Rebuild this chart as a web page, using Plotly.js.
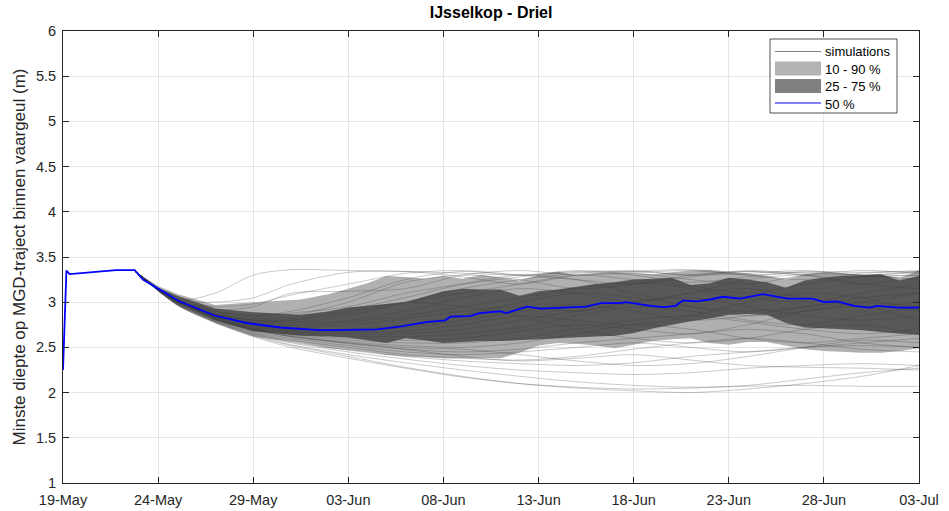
<!DOCTYPE html>
<html>
<head>
<meta charset="utf-8">
<script src="https://cdn.plot.ly/plotly-3.0.1.min.js"></script>
<style>html,body{margin:0;padding:0;background:#fff;}#chart{width:949px;height:511px;}</style>
</head>
<body>
<div id="chart"></div>
<script>
// ---- data (days since 19-May) ----
const startDate = Date.UTC(2021, 4, 19);
const xTickLabels = ['19-May','24-May','29-May','03-Jun','08-Jun','13-Jun','18-Jun','23-Jun','28-Jun','03-Jul'];
const legendLabels = ['simulations', '10 - 90 %', '25 - 75 %', '50 %'];

const medianDays = [0, 0.18, 0.35, 1.5, 2.8, 3.77, 4.2, 5, 6.1, 8, 9.65, 11.4, 13.5, 14.2, 16.5, 17.7, 19.1, 20.1, 20.35, 21.4, 21.9, 23, 23.3, 24.4, 25.1, 27.5, 28.3, 29.3, 29.6, 30.9, 31.6, 32.2, 32.6, 33.3, 34.0, 34.7, 35.6, 36.8, 38.1, 39.4, 40.0, 40.7, 41.6, 42.4, 42.8, 43.9, 45];
const median50 = [2.25, 3.35, 3.31, 3.33, 3.355, 3.355, 3.25, 3.15, 3.01, 2.85, 2.77, 2.72, 2.69, 2.69, 2.70, 2.73, 2.78, 2.80, 2.84, 2.845, 2.88, 2.90, 2.88, 2.95, 2.93, 2.95, 2.99, 2.99, 3.00, 2.96, 2.945, 2.96, 3.02, 3.01, 3.03, 3.06, 3.04, 3.09, 3.04, 3.04, 3.00, 3.01, 2.96, 2.94, 2.96, 2.94, 2.94];

const bandDays = [3.8, 5, 6, 8, 10, 12.5, 14, 15, 16, 17, 18, 19, 20, 21, 22, 23, 24, 25, 26, 27, 28, 29, 30, 31, 32, 33, 34, 35, 36, 37, 38, 39, 40, 41, 42, 43, 44, 45];
const p90 = [3.34, 3.18, 3.09, 2.97, 3.0, 3.03, 3.09, 3.15, 3.21, 3.29, 3.28, 3.26, 3.29, 3.26, 3.3, 3.27, 3.24, 3.3, 3.34, 3.3, 3.32, 3.33, 3.32, 3.31, 3.33, 3.35, 3.36, 3.34, 3.32, 3.29, 3.25, 3.31, 3.33, 3.32, 3.3, 3.3, 3.27, 3.35];
const p75 = [3.34, 3.16, 3.07, 2.93, 2.89, 2.86, 2.9, 2.94, 2.96, 2.98, 3.0, 3.06, 3.12, 3.15, 3.14, 3.14, 3.07, 3.12, 3.14, 3.17, 3.2, 3.22, 3.25, 3.26, 3.27, 3.19, 3.21, 3.27, 3.25, 3.22, 3.16, 3.24, 3.27, 3.29, 3.3, 3.31, 3.24, 3.29];
const p25 = [3.34, 3.13, 3.0, 2.8, 2.68, 2.63, 2.62, 2.61, 2.58, 2.55, 2.6, 2.58, 2.55, 2.56, 2.57, 2.57, 2.58, 2.59, 2.6, 2.61, 2.62, 2.63, 2.66, 2.71, 2.75, 2.79, 2.82, 2.86, 2.87, 2.86, 2.77, 2.72, 2.71, 2.70, 2.69, 2.67, 2.65, 2.64];
const p10 = [3.34, 3.12, 2.98, 2.77, 2.62, 2.55, 2.49, 2.47, 2.45, 2.42, 2.40, 2.39, 2.38, 2.38, 2.38, 2.38, 2.44, 2.52, 2.55, 2.54, 2.52, 2.49, 2.53, 2.57, 2.59, 2.6, 2.55, 2.53, 2.56, 2.56, 2.52, 2.48, 2.46, 2.45, 2.44, 2.44, 2.46, 2.49];

const simDays = [3.8, 6, 8, 10, 12, 15, 18, 21, 24, 27, 30, 33, 36, 39, 42, 45];
const simulations = [
  [3.34, 3.03, 3.1, 3.3, 3.36, 3.35, 3.34, 3.32, 3.3, 3.33, 3.35, 3.3, 3.32, 3.35, 3.3, 3.33],
  [3.34, 3.03, 3.0, 3.05, 3.2, 3.33, 3.34, 3.28, 3.2, 3.3, 3.34, 3.36, 3.3, 3.25, 3.32, 3.34],
  [3.34, 3.02, 2.95, 2.98, 3.08, 3.2, 3.32, 3.35, 3.3, 3.25, 3.2, 3.28, 3.34, 3.3, 3.28, 3.3],
  [3.34, 3.02, 2.92, 2.95, 3.1, 3.12, 3.15, 3.3, 3.35, 3.3, 3.32, 3.25, 3.2, 3.3, 3.35, 3.32],
  [3.34, 3.02, 2.9, 2.85, 2.88, 2.95, 3.1, 3.2, 3.28, 3.34, 3.3, 3.22, 3.28, 3.33, 3.3, 3.25],
  [3.34, 3.02, 2.88, 2.82, 2.85, 3.0, 3.22, 3.3, 3.25, 3.15, 3.2, 3.3, 3.34, 3.3, 3.2, 3.28],
  [3.34, 3.01, 2.87, 2.8, 2.8, 2.88, 3.0, 3.1, 3.2, 3.3, 3.25, 3.18, 3.1, 3.2, 3.28, 3.3],
  [3.34, 3.01, 2.86, 2.78, 2.76, 2.8, 2.9, 3.05, 3.15, 3.1, 3.0, 3.1, 3.25, 3.3, 3.2, 3.15],
  [3.34, 3.01, 2.86, 2.77, 2.74, 2.78, 2.85, 2.95, 3.05, 3.15, 3.22, 3.15, 3.05, 3.0, 3.1, 3.2],
  [3.34, 3.01, 2.85, 2.76, 2.72, 2.75, 2.82, 2.9, 2.95, 2.9, 3.0, 3.1, 3.15, 3.05, 2.95, 3.0],
  [3.34, 3.0, 2.85, 2.75, 2.7, 2.7, 2.75, 2.85, 3.0, 3.1, 3.05, 2.95, 2.9, 2.95, 3.05, 3.1],
  [3.34, 3.0, 2.84, 2.74, 2.69, 2.68, 2.72, 2.8, 2.9, 2.98, 2.9, 2.8, 2.85, 2.95, 3.0, 2.95],
  [3.34, 3.0, 2.84, 2.73, 2.68, 2.66, 2.68, 2.75, 2.85, 2.8, 2.75, 2.85, 3.0, 3.1, 3.05, 2.9],
  [3.34, 3.0, 2.83, 2.72, 2.67, 2.64, 2.65, 2.7, 2.8, 2.9, 3.0, 3.05, 2.95, 2.85, 2.8, 2.85],
  [3.34, 2.99, 2.83, 2.72, 2.66, 2.62, 2.62, 2.65, 2.72, 2.85, 2.95, 2.9, 2.8, 2.75, 2.85, 2.95],
  [3.34, 2.99, 2.82, 2.71, 2.65, 2.6, 2.58, 2.6, 2.68, 2.75, 2.7, 2.65, 2.75, 2.9, 2.95, 2.8],
  [3.34, 2.99, 2.82, 2.7, 2.64, 2.58, 2.55, 2.55, 2.6, 2.7, 2.8, 2.85, 2.78, 2.7, 2.65, 2.7],
  [3.34, 2.99, 2.81, 2.7, 2.63, 2.56, 2.52, 2.5, 2.55, 2.65, 2.75, 2.7, 2.6, 2.55, 2.6, 2.65],
  [3.34, 2.98, 2.81, 2.69, 2.62, 2.54, 2.48, 2.45, 2.48, 2.55, 2.6, 2.65, 2.7, 2.65, 2.55, 2.5],
  [3.34, 2.98, 2.8, 2.68, 2.6, 2.52, 2.45, 2.42, 2.45, 2.5, 2.55, 2.5, 2.45, 2.5, 2.55, 2.6],
  [3.34, 2.98, 2.8, 2.67, 2.58, 2.5, 2.42, 2.38, 2.36, 2.4, 2.48, 2.55, 2.6, 2.55, 2.48, 2.45],
  [3.34, 2.98, 2.79, 2.66, 2.56, 2.47, 2.4, 2.35, 2.32, 2.3, 2.33, 2.4, 2.45, 2.5, 2.52, 2.5],
  [3.34, 2.97, 2.79, 2.65, 2.55, 2.45, 2.37, 2.3, 2.25, 2.22, 2.2, 2.22, 2.27, 2.3, 2.32, 2.3],
  [3.34, 2.97, 2.78, 2.64, 2.53, 2.42, 2.33, 2.25, 2.18, 2.12, 2.08, 2.06, 2.08, 2.15, 2.22, 2.27],
  [3.34, 2.97, 2.78, 2.63, 2.52, 2.4, 2.28, 2.18, 2.1, 2.05, 2.02, 2.0, 2.04, 2.1, 2.18, 2.3],
  [3.34, 2.97, 2.77, 2.62, 2.5, 2.38, 2.27, 2.17, 2.1, 2.06, 2.04, 2.05, 2.07, 2.08, 2.07, 2.07],
  [3.34, 2.98, 2.8, 2.7, 2.62, 2.55, 2.5, 2.48, 2.42, 2.35, 2.3, 2.32, 2.4, 2.5, 2.58, 2.55],
  [3.34, 3.0, 2.85, 2.78, 2.8, 2.9, 3.0, 2.95, 2.85, 2.7, 2.6, 2.55, 2.6, 2.7, 2.75, 2.65],
  [3.34, 3.01, 2.87, 2.8, 2.82, 2.92, 3.05, 3.2, 3.3, 3.25, 3.1, 2.95, 2.85, 2.9, 3.0, 3.1],
  [3.34, 3.02, 2.9, 2.85, 2.9, 3.05, 3.25, 3.34, 3.3, 3.35, 3.33, 3.35, 3.3, 3.34, 3.33, 3.35],
  [3.34, 2.99, 2.82, 2.7, 2.62, 2.55, 2.48, 2.4, 2.35, 2.38, 2.42, 2.36, 2.3, 2.28, 2.27, 2.25],
  [3.34, 3.0, 2.86, 2.8, 2.78, 2.85, 3.0, 3.15, 3.25, 3.32, 3.34, 3.3, 3.35, 3.32, 3.3, 3.34]
];

// ---- helpers ----
const toDate = d => startDate + d * 86400000;
const tickVals = xTickLabels.map((_, i) => toDate(i * 5));

const traces = [];
traces.push({
  name: legendLabels[1],
  x: bandDays.map(toDate).concat(bandDays.slice().reverse().map(toDate)),
  y: p90.concat(p10.slice().reverse()),
  fill: 'toself', fillcolor: 'rgb(176,176,176)', line: {width: 0}, mode: 'lines',
  showlegend: false, hoverinfo: 'skip'
});
traces.push({
  name: legendLabels[2],
  x: bandDays.map(toDate).concat(bandDays.slice().reverse().map(toDate)),
  y: p75.concat(p25.slice().reverse()),
  fill: 'toself', fillcolor: 'rgb(88,88,88)', line: {width: 0}, mode: 'lines',
  showlegend: false, hoverinfo: 'skip'
});
simulations.forEach(s => traces.push({
  name: legendLabels[0],
  x: simDays.map(toDate), y: s, mode: 'lines',
  line: {color: 'rgba(60,60,60,0.35)', width: 0.8, shape: 'spline', smoothing: 0.8},
  showlegend: false, hoverinfo: 'skip'
}));
traces.push({
  name: legendLabels[3],
  x: medianDays.map(toDate), y: median50, mode: 'lines',
  line: {color: '#0000ff', width: 1.8}, showlegend: false
});

// ---- legend drawn in paper coordinates (plot area 63..919 x 31..483 px) ----
const px = v => (v - 63) / 856;
const py = v => (483 - v) / 452;
const shapes = [
  {type: 'rect', xref: 'paper', yref: 'paper', x0: px(770), x1: px(897), y0: py(113), y1: py(39),
   fillcolor: '#fff', line: {color: '#262626', width: 0.8}},
  {type: 'line', xref: 'paper', yref: 'paper', x0: px(775), x1: px(821), y0: py(51.5), y1: py(51.5),
   line: {color: '#808080', width: 1.2}},
  {type: 'rect', xref: 'paper', yref: 'paper', x0: px(775), x1: px(821), y0: py(75.5), y1: py(61.5),
   fillcolor: 'rgb(179,179,179)', line: {width: 0}},
  {type: 'rect', xref: 'paper', yref: 'paper', x0: px(775), x1: px(821), y0: py(93), y1: py(79),
   fillcolor: 'rgb(128,128,128)', line: {width: 0}},
  {type: 'line', xref: 'paper', yref: 'paper', x0: px(775), x1: px(821), y0: py(103), y1: py(103),
   line: {color: '#0000ff', width: 1.2}}
];
const legendY = [51.5, 69.5, 87, 104.5];
const annotations = legendLabels.map((t, i) => ({
  text: t, xref: 'paper', yref: 'paper', x: px(823), y: py(legendY[i]),
  xanchor: 'left', yanchor: 'middle', showarrow: false,
  font: {family: 'Liberation Sans, Arial, sans-serif', size: 13, color: '#000'}
}));

const font = 'Liberation Sans, Arial, sans-serif';
const layout = {
  width: 949, height: 511,
  margin: {l: 63, r: 30, t: 31, b: 28},
  paper_bgcolor: '#fff', plot_bgcolor: '#fff',
  font: {family: font, size: 14, color: '#262626'},
  title: {text: '<b>IJsselkop - Driel</b>', font: {family: font, size: 16, color: '#000'},
          x: 0.5175, xanchor: 'center', y: 0.976, yref: 'container', yanchor: 'middle'},
  showlegend: false,
  shapes: shapes,
  annotations: annotations,
  xaxis: {
    type: 'date', range: [toDate(0), toDate(45)],
    tickmode: 'array', tickvals: tickVals, ticktext: xTickLabels,
    ticks: 'inside', ticklen: 6, tickcolor: '#262626', tickwidth: 1,
    showline: true, linecolor: '#262626', linewidth: 1, mirror: 'ticks',
    showgrid: true, gridcolor: '#e6e6e6', gridwidth: 1, zeroline: false,
    tickfont: {size: 14.5, color: '#262626'}, ticklabelstandoff: 4
  },
  yaxis: {
    range: [1, 6], dtick: 0.5, tick0: 1,
    ticks: 'inside', ticklen: 6, tickcolor: '#262626', tickwidth: 1,
    showline: true, linecolor: '#262626', linewidth: 1, mirror: 'ticks',
    showgrid: true, gridcolor: '#e6e6e6', gridwidth: 1, zeroline: false,
    tickfont: {size: 14.5, color: '#262626'}, ticklabelstandoff: 3,
    title: {text: 'Minste diepte op MGD-traject binnen vaargeul (m)', font: {size: 17, color: '#262626'}, standoff: 5}
  }
};

Plotly.newPlot('chart', traces, layout, {displayModeBar: false, staticPlot: true});
</script>
</body>
</html>
